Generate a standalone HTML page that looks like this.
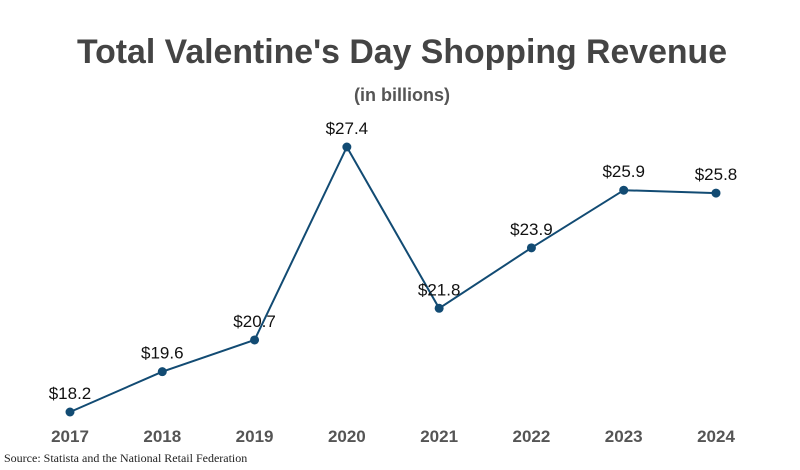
<!DOCTYPE html>
<html><head><meta charset="utf-8"><style>
body{margin:0;background:#fff;}
svg{display:block;}
</style></head><body>
<svg id="chart" width="800" height="470" viewBox="0 0 800 470">
<text x="402" y="63" text-anchor="middle" textLength="650" lengthAdjust="spacingAndGlyphs" font-family="Liberation Sans, sans-serif" font-weight="bold" font-size="34" fill="#444">Total Valentine's Day Shopping Revenue</text>
<text x="402" y="101" text-anchor="middle" font-family="Liberation Sans, sans-serif" font-weight="bold" font-size="18" fill="#555">(in billions)</text>
<g id="plot"></g>
<text x="4" y="462" font-family="Liberation Serif, serif" font-size="12" fill="#222">Source: Statista and the National Retail Federation</text>
</svg>
<script>
const categories = ["2017","2018","2019","2020","2021","2022","2023","2024"];
const values = [18.2,19.6,20.7,27.4,21.8,23.9,25.9,25.8];
const valueLabels = ["$18.2","$19.6","$20.7","$27.4","$21.8","$23.9","$25.9","$25.8"];

const NS="http://www.w3.org/2000/svg";
const g=document.getElementById('plot');
function xScale(i){return 70+i*(716-70)/(categories.length-1);}
function yScale(v){return 412-(v-18.2)*(265/9.2);}
function mk(t,a){const e=document.createElementNS(NS,t);for(const k in a)e.setAttribute(k,a[k]);g.appendChild(e);return e;}
const pts=values.map((v,i)=>xScale(i)+","+yScale(v)).join(" ");
const line=mk('polyline',{points:pts,fill:'none',stroke:'#124b73','stroke-width':2});


values.forEach((v,i)=>{
  const c=mk('circle',{cx:xScale(i),cy:yScale(v),r:4.5,fill:'#124b73'});
  
  
  const t=mk('text',{x:xScale(i),y:yScale(v)-13,'text-anchor':'middle','font-family':'Liberation Sans, sans-serif','font-size':17,fill:'#111'});
  t.textContent=valueLabels[i];
  
  
  const xl=mk('text',{x:xScale(i),y:442,'text-anchor':'middle','font-family':'Liberation Sans, sans-serif','font-weight':'bold','font-size':17,fill:'#555'});
  xl.textContent=categories[i];
  
  
});
</script>
</body></html>
